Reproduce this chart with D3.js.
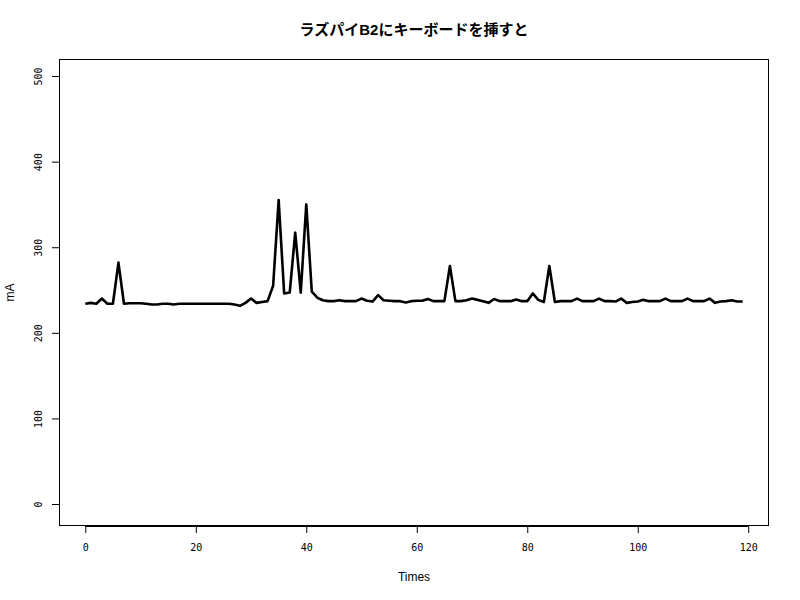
<!DOCTYPE html>
<html><head><meta charset="utf-8">
<script src="https://cdn.jsdelivr.net/npm/d3@7"></script>
<style>body{margin:0;background:#fff}</style>
</head><body>
<script>
const title = "ラズパイB2にキーボードを挿すと";
const xLabel = "Times";
const yLabel = "mA";
const xTicks = [0,20,40,60,80,100,120];
const yTicks = [0,100,200,300,400,500];
const current = [
234,235,234,240,234,234,282,234,234.5,234.5,
234.5,234,233,233,234,234,233,234,234,234,
234,234,234,234,234,234,234,233,231.5,235,
240,235,236,237,255,355,246,247,317,247,
350,248,241,238,237,237,238,237,237,237,
240,237.5,236.5,244,238,237.5,237,237,235.5,237,
237.5,237.5,239.5,237,237,237,278,237,237,238,
240,238.5,237,235,239.5,237,237,237,239,237,
237,246,238.5,236,278,236,237,237,237,240,
237,237,237,240,237,237,236.5,240,235,236,
236.5,238.5,237,237,237,240,237,237,237,240,
237,237,237,240,235,236.5,237,238,236.5,236.5
];
const times = current.map((d,i)=>i);

const W=800,H=600;
const m={l:59,r:31,t:59,b:74};
const svg=d3.select("body").append("svg").attr("width",W).attr("height",H);
const x=d3.scaleLinear().domain([-4.76,123.76]).range([m.l,W-m.r]);
const y=d3.scaleLinear().domain([-25.7,519.9]).range([H-m.b,m.t]);

svg.append("rect").attr("x",m.l+0.5).attr("y",m.t+0.5)
  .attr("width",W-m.l-m.r-1).attr("height",H-m.t-m.b-1)
  .attr("fill","none").attr("stroke","#000").attr("stroke-width",1);

const xa=svg.append("g").attr("transform",`translate(0,${H-m.b})`)
  .call(d3.axisBottom(x).tickValues(xTicks).tickSize(7).tickPadding(11).tickSizeOuter(0));
xa.select(".domain").attr("d",`M${x(0)},0.5H${x(120)}`);
xa.selectAll("text").attr("font-family","DejaVu Sans Mono").attr("font-size","10px").attr("fill","#000");

const ya=svg.append("g").attr("transform",`translate(${m.l},0)`)
  .call(d3.axisLeft(y).tickValues(yTicks).tickSize(7).tickSizeOuter(0));
ya.select(".domain").attr("d",`M0.5,${y(0)}V${y(500)}`);
ya.selectAll("text").attr("font-family","DejaVu Sans Mono").attr("font-size","10px").attr("fill","#000")
  .attr("text-anchor","middle").attr("x",0).attr("dy",0)
  .attr("transform","translate(-17,0) rotate(-90)");

svg.append("path").datum(current)
  .attr("fill","none").attr("stroke","#000").attr("stroke-width",2.6)
  .attr("stroke-linejoin","round")
  .attr("d",d3.line().x((d,i)=>x(times[i])).y(d=>y(d)));

svg.append("text").attr("x",(m.l+W-m.r)/2).attr("y",35).attr("text-anchor","middle")
  .attr("font-family","Liberation Sans, Noto Sans CJK JP").attr("font-weight","bold").attr("font-size","15px").text(title);
svg.append("text").attr("x",(m.l+W-m.r)/2).attr("y",581).attr("text-anchor","middle")
  .attr("font-family","Liberation Sans, Noto Sans CJK JP").attr("font-size","12px").text(xLabel);
svg.append("text").attr("transform",`translate(14,${(m.t+H-m.b)/2}) rotate(-90)`).attr("text-anchor","middle")
  .attr("font-family","Liberation Sans, Noto Sans CJK JP").attr("font-size","12px").text(yLabel);
</script>
</body></html>
